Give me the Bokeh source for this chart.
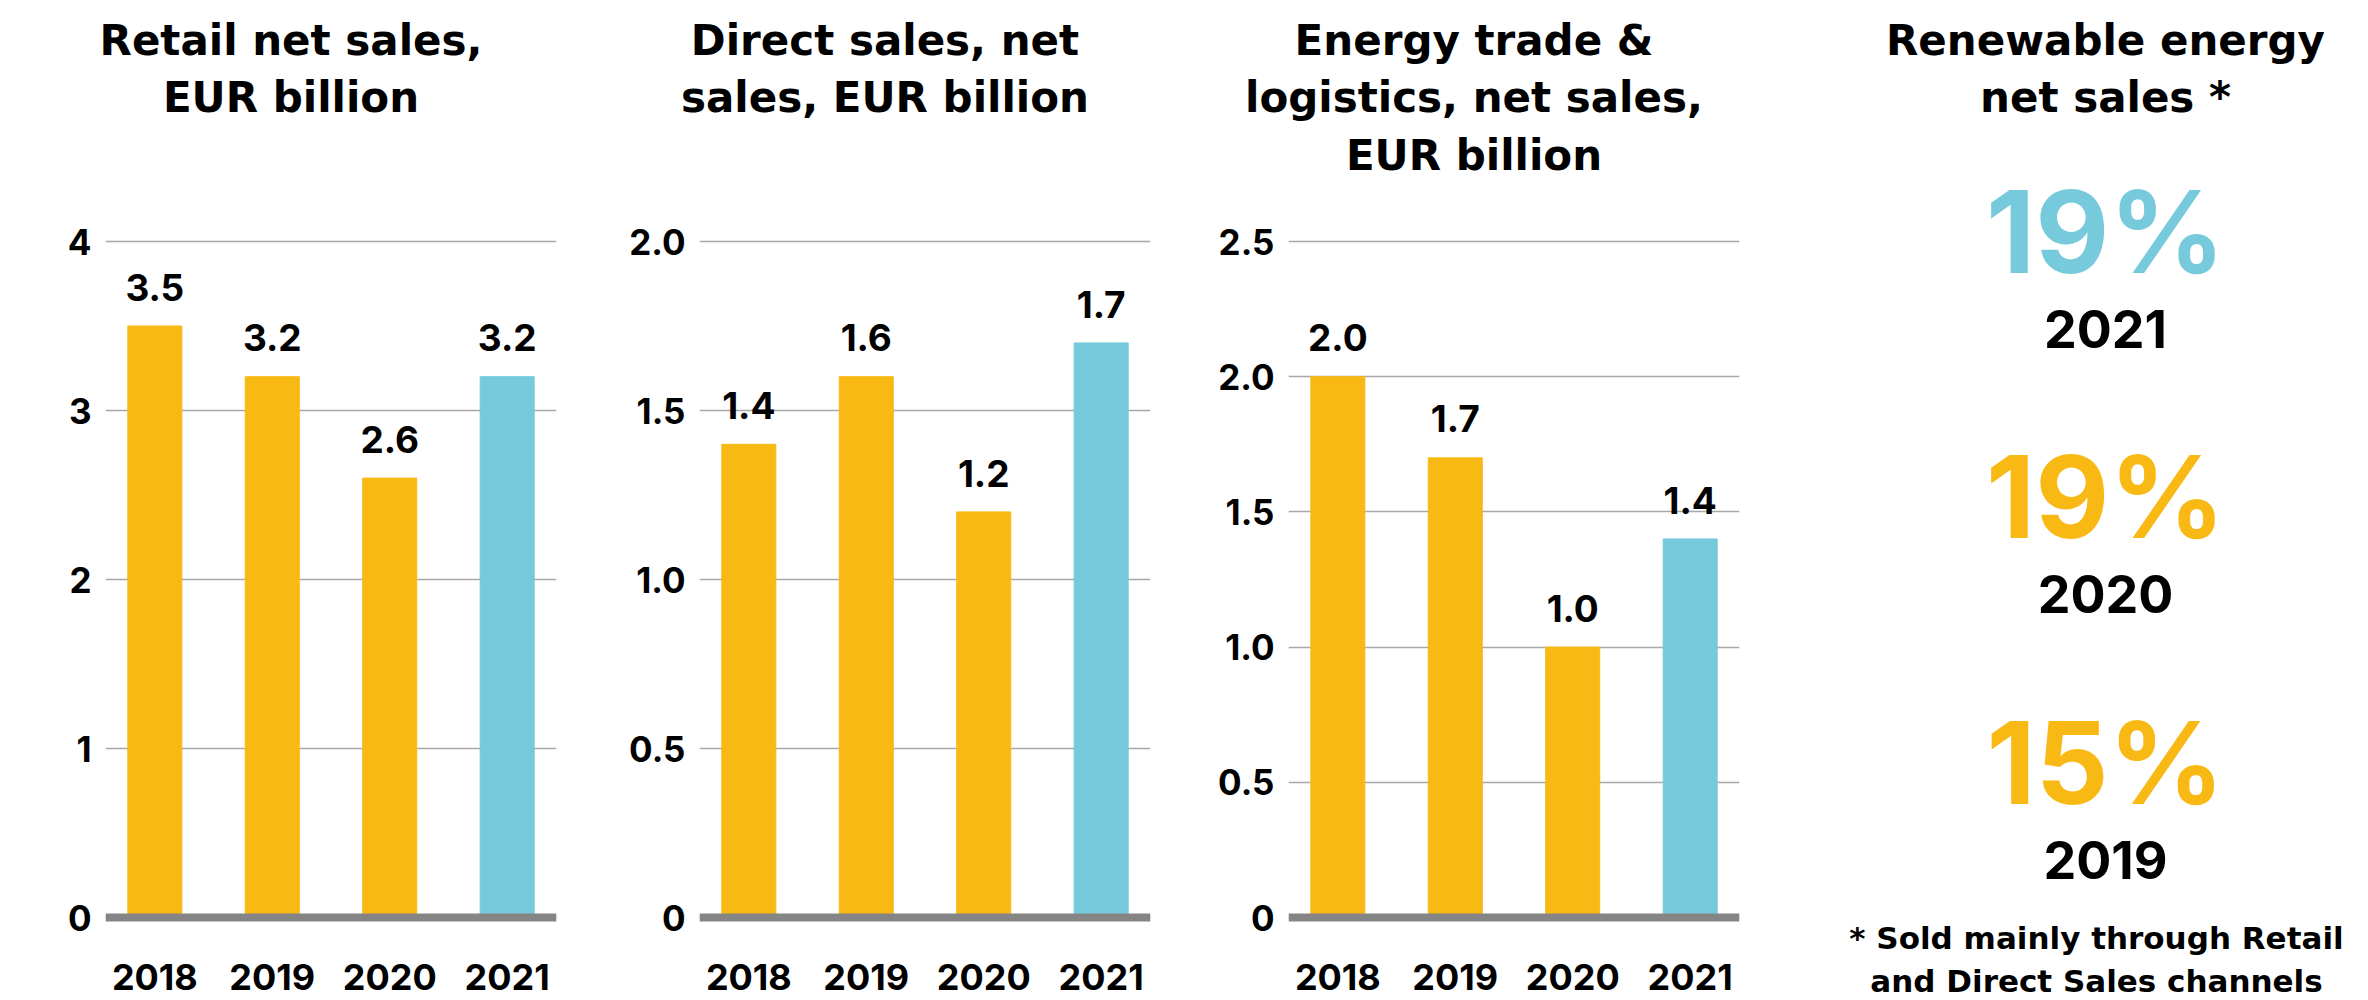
from bokeh.plotting import figure
from bokeh.layouts import row, column
from bokeh.models import ColumnDataSource, Range1d, FixedTicker, Span
from bokeh.core.properties import value
from bokeh.embed import file_html
from bokeh.resources import INLINE

# ---------------- data ----------------
YEARS = ["2018", "2019", "2020", "2021"]
RETAIL = [3.5, 3.2, 2.6, 3.2]
DIRECT = [1.4, 1.6, 1.2, 1.7]
ENERGY = [2.0, 1.7, 1.0, 1.4]

RETAIL_TICKS = [0, 1, 2, 3, 4]
RETAIL_TICK_LABELS = ["0", "1", "2", "3", "4"]
DIRECT_TICKS = [0, 0.5, 1.0, 1.5, 2.0]
DIRECT_TICK_LABELS = ["0", "0.5", "1.0", "1.5", "2.0"]
ENERGY_TICKS = [0, 0.5, 1.0, 1.5, 2.0, 2.5]
ENERGY_TICK_LABELS = ["0", "0.5", "1.0", "1.5", "2.0", "2.5"]

TITLES = [
    ["Retail net sales,", "EUR billion"],
    ["Direct sales, net", "sales, EUR billion"],
    ["Energy trade &", "logistics, net sales,", "EUR billion"],
]

RENEW_TITLE = ["Renewable energy", "net sales *"]
RENEW_YEARS = ["2021", "2020", "2019"]
RENEW_SHARE = [19, 19, 15]
FOOTNOTE = ["* Sold mainly through Retail", "and Direct Sales channels"]

HIGHLIGHT_YEAR = "2021"

# ---------------- style / layout ----------------
NUM_FONT = "Inter"
TXT_FONT = "DejaVu Sans"
YELLOW = "#F9B915"
BLUE = "#76CADB"
GRID = "#A8A8A8"
BASE = "#858585"
BASE_SHIFT = 0.32            # em correction for rendered alphabetic baseline

PAGE_H = 1000
HEAD_H = 221
CHART_H = PAGE_H - HEAD_H
PANEL_W = 592
FRAME_W = 451
FRAME_LEFT = [105, 107, 104]   # frame left edge inside each bar panel
TOP_TICK_PX = 20               # px from frame top to top tick
ZERO_PX = 696                  # px from frame top to zero line
YEAR_BASE = 71                 # zero line -> year-label baseline
VALUE_GAP = 27                 # bar top -> value-label baseline
TITLE_BASE = 53
TITLE_STEP = 57.5
TITLE_SHIFT = -40
R_CENTER = 329                 # centre of renewable panel
R_FIRST = 267                  # page top -> first big number baseline
R_STEP = 265.5


def fix(px, size):
    return px - BASE_SHIFT * size


def bar_panel(vals, ticks, tick_labels, left):
    top_val = ticks[-1]
    ppu = (ZERO_PX - TOP_TICK_PX) / top_val
    y_end = top_val + TOP_TICK_PX / ppu
    y_start = -(CHART_H - ZERO_PX) / ppu
    p = figure(width=PANEL_W, height=CHART_H,
               x_range=Range1d(-0.42, 3.42), y_range=Range1d(y_start, y_end),
               x_axis_type=None,
               output_backend="svg", toolbar_location=None,
               min_border_left=left, min_border_right=PANEL_W - left - FRAME_W,
               min_border_top=0, min_border_bottom=0)
    colors = [BLUE if y == HIGHLIGHT_YEAR else YELLOW for y in YEARS]
    src = ColumnDataSource(dict(
        x=list(range(len(YEARS))), v=vals, c=colors, year=YEARS,
        zero=[0] * len(YEARS), lab=[f"{v:.1f}" for v in vals]))
    p.vbar(x="x", top="v", bottom=0, width=0.46, color="c", source=src)
    p.text(x="x", y="v", text="lab", source=src, y_offset=fix(-VALUE_GAP, 37),
           text_align="center", text_baseline="alphabetic",
           text_font=value(NUM_FONT), text_font_style="bold",
           text_font_size="37px", text_color="#000000")
    p.text(x="x", y="zero", text="year", source=src, y_offset=fix(YEAR_BASE, 36),
           text_align="center", text_baseline="alphabetic",
           text_font=value(NUM_FONT), text_font_style="bold",
           text_font_size="36px", text_color="#000000")
    p.add_layout(Span(location=0, dimension="width", line_color=BASE,
                      line_width=8))

    ax = p.yaxis[0]
    ax.ticker = FixedTicker(ticks=ticks)
    ax.major_label_overrides = dict(zip(ticks, tick_labels))
    ax.major_label_standoff = 14
    ax.axis_line_color = None
    ax.major_tick_line_color = None
    ax.minor_tick_line_color = None
    ax.major_tick_out = 0
    ax.major_tick_in = 0
    ax.major_label_text_font = NUM_FONT
    ax.major_label_text_font_style = "bold"
    ax.major_label_text_font_size = "35px"
    ax.major_label_text_color = "#000000"
    p.ygrid.grid_line_color = GRID
    p.ygrid.grid_line_width = 1.5
    p.outline_line_color = None
    return p


p1 = bar_panel(RETAIL, RETAIL_TICKS, RETAIL_TICK_LABELS, FRAME_LEFT[0])
p2 = bar_panel(DIRECT, DIRECT_TICKS, DIRECT_TICK_LABELS, FRAME_LEFT[1])
p3 = bar_panel(ENERGY, ENERGY_TICKS, ENERGY_TICK_LABELS, FRAME_LEFT[2])

# ---------------- header with bar-panel titles ----------------
tx, ty, tt = [], [], []
for i, lines in enumerate(TITLES):
    c = i * PANEL_W + FRAME_LEFT[i] + FRAME_W / 2 + TITLE_SHIFT
    for j, line in enumerate(lines):
        tx.append(c)
        ty.append(fix(TITLE_BASE + j * TITLE_STEP, 42))
        tt.append(line)
HEAD_W = 3 * PANEL_W
head = figure(width=HEAD_W, height=HEAD_H,
              x_range=Range1d(0, HEAD_W), y_range=Range1d(HEAD_H, 0),
              x_axis_type=None, y_axis_type=None,
              output_backend="svg", toolbar_location=None,
              min_border_left=0, min_border_right=0,
              min_border_top=0, min_border_bottom=0)
head.grid.visible = False
head.outline_line_color = None
head.text(x=tx, y=ty, text=tt, text_align="center", text_baseline="alphabetic",
          text_font=value(TXT_FONT), text_font_style="bold",
          text_font_size="42px", text_color="#000000")

# ---------------- renewable panel (full height) ----------------
y4_top = -R_FIRST / R_STEP
p4 = figure(width=PANEL_W, height=PAGE_H,
            x_range=Range1d(-R_CENTER, PANEL_W - R_CENTER),
            y_range=Range1d((PAGE_H - R_FIRST) / R_STEP, y4_top),
            x_axis_type=None, y_axis_type=None,
            output_backend="svg", toolbar_location=None,
            min_border_left=0, min_border_right=0,
            min_border_top=0, min_border_bottom=0)
p4.grid.visible = False
p4.outline_line_color = None
p4.text(x=[0] * len(RENEW_TITLE), y=[y4_top] * len(RENEW_TITLE), text=RENEW_TITLE,
        y_offset=[fix(TITLE_BASE + j * TITLE_STEP, 42) for j in range(len(RENEW_TITLE))],
        text_align="center", text_baseline="alphabetic",
        text_font=value(TXT_FONT), text_font_style="bold",
        text_font_size="42px", text_color="#000000")
rsrc = ColumnDataSource(dict(
    x=[0] * len(RENEW_YEARS), y=list(range(len(RENEW_YEARS))),
    share=[f"{s}%" for s in RENEW_SHARE], year=RENEW_YEARS,
    c=[BLUE if y == HIGHLIGHT_YEAR else YELLOW for y in RENEW_YEARS]))
p4.text(x="x", y="y", text="share", source=rsrc, text_color="c",
        y_offset=fix(0, 114),
        text_align="center", text_baseline="alphabetic",
        text_font=value(NUM_FONT), text_font_style="bold", text_font_size="114px")
p4.text(x="x", y="y", text="year", source=rsrc, y_offset=fix(78, 52),
        text_align="center", text_baseline="alphabetic", text_color="#000000",
        text_font=value(NUM_FONT), text_font_style="bold", text_font_size="52px")
last = len(RENEW_YEARS) - 1
fsrc = ColumnDataSource(dict(x=[-9, -9], y=[last, last], t=FOOTNOTE,
                             off=[fix(149, 31), fix(192, 31)]))
p4.text(x="x", y="y", text="t", y_offset="off", source=fsrc,
        text_align="center", text_baseline="alphabetic", text_color="#000000",
        text_font=value(TXT_FONT), text_font_style="bold", text_font_size="31px")

layout = row(column(head, row(p1, p2, p3)), p4)
open("out.html", "w").write(file_html(layout, INLINE))
